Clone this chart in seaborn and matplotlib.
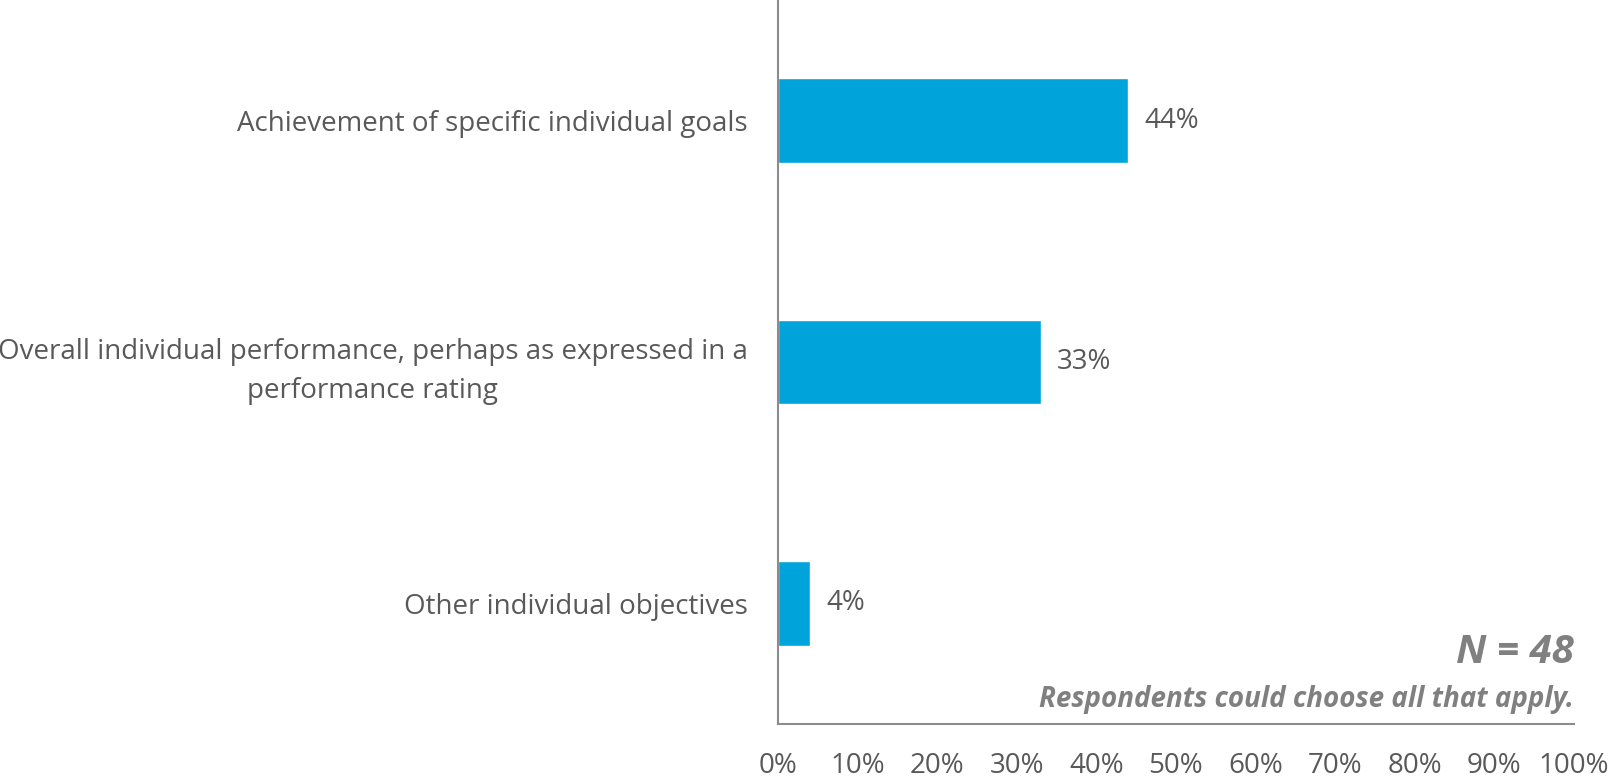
import pandas as pd
import seaborn as sns
import matplotlib.pyplot as plt
from matplotlib.ticker import PercentFormatter

# Datos
categorias = [
    "Achievement of specific individual goals",
    "Overall individual performance, perhaps as expressed in a\nperformance rating",
    "Other individual objectives",
]
valores = [0.44, 0.33, 0.04]
etiquetas = ["44%", "33%", "4%"]

df = pd.DataFrame({"categoria": categorias, "valor": valores})

sns.set_theme(style="white")
plt.rcParams["font.family"] = ["Open Sans", "DejaVu Sans"]

gris = "#595959"
azul = "#00A3DA"

fig = plt.figure(figsize=(16.1, 7.79), dpi=100)
ax = fig.add_axes([0.4832, 0.0706, 0.4944, 0.9294])

sns.barplot(data=df, x="valor", y="categoria", color=azul, saturation=1,
            width=0.35, ax=ax)

ax.set_xlim(0, 1)
ax.set_ylim(2.5, -0.5)
ax.xaxis.set_major_locator(plt.MultipleLocator(0.1))
ax.xaxis.set_major_formatter(PercentFormatter(1.0, decimals=0))
ax.set_xlabel("")
ax.set_ylabel("")

for s in ["top", "right"]:
    ax.spines[s].set_visible(False)
for s in ["left", "bottom"]:
    ax.spines[s].set_color("#8c8c8c")
    ax.spines[s].set_linewidth(1.5)

ax.tick_params(axis="x", labelsize=20, colors=gris, length=0)
ax.tick_params(axis="y", labelsize=20, colors=gris, length=0)
for t in ax.xaxis.get_major_ticks():
    t.set_pad(20)
for t in ax.yaxis.get_major_ticks():
    t.set_pad(22)
for t in ax.get_yticklabels():
    t.set_multialignment("center")
    t.set_linespacing(1.55)

for i, (v, lab) in enumerate(zip(valores, etiquetas)):
    ax.annotate(lab, (v, i), xytext=(12, 0), textcoords="offset points",
                ha="left", va="center", fontsize=20, color=gris)

fig.text(0.9776, 0.163, "N = 48", ha="right", va="center", fontsize=29,
         fontweight="bold", fontstyle="italic", color="#808080")
fig.text(0.9776, 0.102, "Respondents could choose all that apply.", ha="right",
         va="center", fontsize=20, fontweight="bold", fontstyle="italic",
         color="#808080")

plt.savefig("out.png", dpi=100)
plt.close()
